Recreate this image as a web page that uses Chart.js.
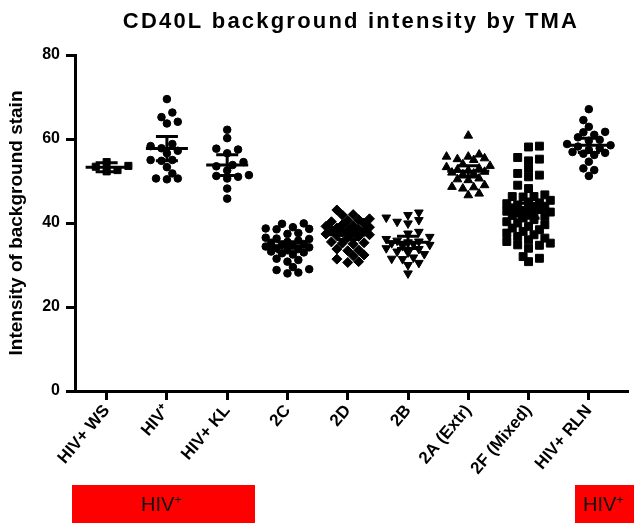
<!DOCTYPE html>
<html><head><meta charset="utf-8">
<script src="https://cdn.jsdelivr.net/npm/chart.js@4"></script>
<style>html,body{margin:0;padding:0;background:#fff}#wrap{width:634px;height:523px;position:relative}</style>
</head><body><div id="wrap"><canvas id="c" width="634" height="523"></canvas></div>
<script>
// ---- data ----
const categories = ['HIV+ WS', 'HIV\u207A', 'HIV+ KL', '2C', '2D', '2B', '2A (Extr)', '2F (Mixed)', 'HIV+ RLN'];
const hivWS = [54.5, 53.6, 53.4, 52.6, 52.3];
const hivPos = [69.5, 66.3, 65.2, 64.1, 63.7, 58.8, 58.3, 57.8, 57.2, 56.6, 55.0, 55.0, 54.8, 53.3, 51.8, 50.6, 50.4, 50.6];
const hivKL = [62.2, 60.2, 57.7, 57.5, 52.5, 56.6, 54.5, 53.8, 53.5, 51.4, 51.0, 50.6, 51.2, 48.2, 45.8];
const g2C = [39.9, 39.8, 39.0, 38.7, 38.6, 38.5, 37.6, 37.4, 36.5, 36.3, 36.2, 35.8, 35.5, 35.3, 35.0, 34.8, 34.6, 34.4, 34.2, 34.0, 33.8, 33.5, 33.2, 33.0, 32.8, 32.5, 31.5, 31.2, 30.8, 29.5, 29.0, 28.8, 28.2, 28.0];
const g2D = [43.1, 42.0, 41.9, 41.0, 40.8, 40.6, 40.3, 40.0, 39.6, 39.4, 39.2, 39.0, 38.8, 38.6, 38.4, 38.2, 38.0, 37.8, 37.6, 37.4, 37.2, 37.0, 36.8, 36.5, 35.5, 35.3, 35.2, 35.0, 33.8, 33.6, 33.4, 32.4, 32.2, 31.4, 30.8, 30.6];
const g2B = [42.5, 41.9, 41.3, 40.7, 40.3, 39.9, 37.9, 37.5, 36.7, 36.2, 35.8, 35.6, 35.4, 35.2, 35.0, 34.8, 34.5, 34.0, 33.8, 33.2, 33.0, 32.6, 31.8, 31.5, 31.4, 30.5, 30.0, 28.0];
const g2A = [60.8, 56.3, 55.8, 55.8, 55.4, 55.2, 55.0, 54.0, 53.6, 53.3, 53.0, 52.7, 52.5, 52.2, 52.0, 51.8, 51.6, 50.6, 50.4, 50.2, 49.0, 48.6, 48.5, 48.2, 47.0, 46.6];
const g2F = [58.3, 58.1, 55.6, 54.8, 55.2, 52.9, 51.8, 51.4, 51.0, 48.2, 49.0, 46.3, 46.3, 46.2, 46.7,
  45.4, 45.0, 44.8, 44.6, 44.3, 44.0, 43.8, 43.6, 43.4, 43.2, 43.0, 42.8, 42.6, 42.4, 42.2, 42.0, 41.8, 41.6,
  41.2, 40.8, 40.3, 40.0, 39.6, 39.2, 38.8, 38.4, 38.0, 37.6, 37.2, 36.8, 36.4, 36.0, 35.6, 35.2,
  34.8, 34.0, 34.7, 32.0, 30.8, 31.6];
const hivRLN = [67.1, 64.5, 62.9, 61.7, 61.6, 61.0, 60.4, 59.8, 59.6, 58.8, 58.5, 58.2, 57.8, 57.4, 56.9, 56.7, 56.5, 56.2, 54.6, 53.0, 52.6, 51.2];
const groups = [hivWS, hivPos, hivKL, g2C, g2D, g2B, g2A, g2F, hivRLN];
const yTicks = [0, 20, 40, 60, 80];
const title = 'CD40L background intensity by TMA';
const yTitle = 'Intensity of background stain';
const boxLabel = 'HIV';

// ---- styling ----
const FONT = "'Liberation Sans', Arial, sans-serif";
const styles = [
  {s: 'rect', r: 5, rot: 0}, {s: 'circle', r: 3.8, rot: 0}, {s: 'circle', r: 3.8, rot: 0},
  {s: 'circle', r: 3.8, rot: 0}, {s: 'rectRot', r: 5, rot: 0}, {s: 'triangle', r: 5, rot: 180},
  {s: 'triangle', r: 5, rot: 0}, {s: 'rect', r: 5.6, rot: 0}, {s: 'circle', r: 3.8, rot: 0}
];
const PX_X = 61, PX_Y = 4.2;

// bounded beeswarm layout (pixel offsets -> x units)
function swarm(vals, d, step, K) {
  const idx = vals.map((v, i) => i).sort((a, b) => vals[a] - vals[b]);
  const placed = [], off = new Array(vals.length).fill(0);
  let flip = 1;
  for (const i of idx) {
    const y = vals[i] * PX_Y;
    const cands = [0];
    for (let k = 1; k <= K; k++) cands.push(flip * k * step, -flip * k * step);
    let best = null, bestD = -1;
    for (const c of cands) {
      const md = placed.reduce((m, p) => Math.min(m, Math.hypot(p.x - c, p.y - y)), Infinity);
      if (md >= d) { best = c; bestD = Infinity; break; }
      if (md > bestD + 0.5) { bestD = md; best = c; }
    }
    if (best !== 0) flip = -flip;
    off[i] = best; placed.push({x: best, y});
  }
  return off.map(o => o / PX_X);
}

function stats(v) {
  const n = v.length, m = v.reduce((a, b) => a + b, 0) / n;
  const sd = Math.sqrt(v.reduce((a, b) => a + (b - m) ** 2, 0) / (n - 1));
  const tt = [0, 12.71, 4.30, 3.18, 2.78, 2.57, 2.45, 2.36, 2.31, 2.26, 2.23];
  const df = n - 1, t = df <= 10 ? tt[df] : 1.96 + 2.4 / df;
  const h = t * sd / Math.sqrt(n);
  return {m, lo: m - h, hi: m + h};
}

const datasets = groups.map((vals, i) => {
  const off = swarm(vals, 7.4, 5.5, 4);
  return {
    label: categories[i],
    data: vals.map((v, j) => ({x: i + off[j], y: v})),
    pointStyle: styles[i].s, pointRadius: styles[i].r, rotation: styles[i].rot,
    backgroundColor: '#000', borderColor: '#000', borderWidth: 1, showLine: false
  };
});

const extras = {
  id: 'extras',
  afterDatasetsDraw(chart) {
    const {ctx, scales: {x, y}} = chart;
    ctx.save();
    ctx.strokeStyle = '#000'; ctx.lineWidth = 3; ctx.lineCap = 'butt';
    groups.forEach((vals, i) => {
      const st = stats(vals), cx = x.getPixelForValue(i);
      const ym = y.getPixelForValue(st.m), yl = y.getPixelForValue(st.lo), yh = y.getPixelForValue(st.hi);
      ctx.beginPath();
      ctx.moveTo(cx - 21, ym); ctx.lineTo(cx + 21, ym);
      ctx.moveTo(cx, yl); ctx.lineTo(cx, yh);
      ctx.moveTo(cx - 11, yl); ctx.lineTo(cx + 11, yl);
      ctx.moveTo(cx - 11, yh); ctx.lineTo(cx + 11, yh);
      ctx.stroke();
    });
    ctx.restore();
  },
  afterDraw(chart) {
    const ctx = chart.ctx;
    ctx.save();
    ctx.fillStyle = '#000';
    ctx.font = 'bold 22px ' + FONT;
    ctx.letterSpacing = '2.2px';
    ctx.textAlign = 'center'; ctx.textBaseline = 'middle';
    ctx.fillText(title, 351, 22);
    ctx.letterSpacing = '0px';
    // red group boxes
    ctx.fillStyle = '#ff0000';
    ctx.fillRect(72, 485, 183, 38);
    ctx.fillRect(575, 485, 59, 38);
    ctx.fillStyle = '#111';
    ctx.textAlign = 'left'; ctx.textBaseline = 'alphabetic';
    const drawLbl = (x0, yb) => {
      ctx.font = '20px ' + FONT;
      ctx.fillText(boxLabel, x0, yb);
      const w = ctx.measureText(boxLabel).width;
      ctx.font = '13px ' + FONT;
      ctx.fillText('+', x0 + w, yb - 7);
    };
    drawLbl(141, 511);
    drawLbl(583, 511);
    ctx.restore();
  }
};

new Chart(document.getElementById('c'), {
  type: 'scatter',
  data: {datasets},
  plugins: [extras],
  options: {
    responsive: false, animation: false, devicePixelRatio: 1,
    layout: {padding: {top: 55, right: 0, bottom: 0, left: 0}},
    plugins: {legend: {display: false}, tooltip: {enabled: false}, title: {display: false}},
    scales: {
      x: {
        type: 'linear', min: -0.525, max: 8.64,
        afterBuildTicks: s => { s.ticks = categories.map((_, i) => ({value: i})); },
        ticks: {callback: v => categories[v], maxRotation: 50, minRotation: 50, autoSkip: false,
          color: '#000', font: {family: FONT, size: 17, weight: 'bold'}, padding: 1},
        grid: {drawOnChartArea: false, color: '#000', lineWidth: 3, tickLength: 9},
        border: {color: '#000', width: 3},
        afterFit: s => { s.height = 132; s.paddingLeft = 0; s.paddingRight = 0; }
      },
      y: {
        min: 0, max: 80,
        afterBuildTicks: s => { s.ticks = yTicks.map(v => ({value: v})); },
        ticks: {color: '#000', font: {family: FONT, size: 16, weight: 'bold'}, padding: 6},
        grid: {drawOnChartArea: false, color: '#000', lineWidth: 3, tickLength: 9},
        border: {color: '#000', width: 3},
        title: {display: true, text: yTitle, color: '#000', font: {family: FONT, size: 19, weight: 'bold'}, padding: {top: 5, bottom: 0}},
        afterFit: s => { s.width = 75; }
      }
    }
  }
});
</script></body></html>
